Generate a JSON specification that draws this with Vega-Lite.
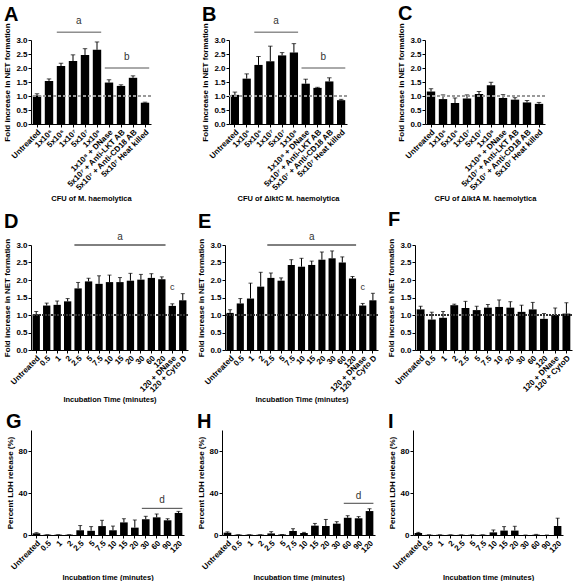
{
  "$schema": "https://vega.github.io/schema/vega-lite/v6.json",
  "padding": {"left": 3, "top": 3, "right": 0, "bottom": 0},
  "background": "white",
  "datasets": {
    "A": [
      {"c": "Untreated", "v": 1.02, "u": 1.08},
      {"c": "1x10⁶", "v": 1.54, "u": 1.61},
      {"c": "5x10⁶", "v": 2.07, "u": 2.17},
      {"c": "1x10⁷", "v": 2.25, "u": 2.47},
      {"c": "5x10⁷", "v": 2.46, "u": 2.69},
      {"c": "1x10⁸", "v": 2.65, "u": 2.93},
      {"c": "1x10⁸ + DNase", "v": 1.48, "u": 1.58},
      {"c": "5x10⁷ + Anti-LKT AB", "v": 1.36, "u": 1.40},
      {"c": "5x10⁷ + Anti-CD18 AB", "v": 1.65, "u": 1.72},
      {"c": "5x10⁷ Heat killed", "v": 0.76, "u": 0.78}
    ],
    "B": [
      {"c": "Untreated", "v": 1.04, "u": 1.14},
      {"c": "1x10⁶", "v": 1.62, "u": 1.79},
      {"c": "5x10⁶", "v": 2.11, "u": 2.41},
      {"c": "1x10⁷", "v": 2.24, "u": 2.78},
      {"c": "5x10⁷", "v": 2.45, "u": 2.55},
      {"c": "1x10⁸", "v": 2.55, "u": 2.87},
      {"c": "1x10⁸ + DNase", "v": 1.44, "u": 1.60},
      {"c": "5x10⁷ + Anti-LKT AB", "v": 1.29, "u": 1.31},
      {"c": "5x10⁷ + Anti-CD18 AB", "v": 1.52, "u": 1.65},
      {"c": "5x10⁷ Heat killed", "v": 0.85, "u": 0.88}
    ],
    "C": [
      {"c": "Untreated", "v": 1.16, "u": 1.26},
      {"c": "1x10⁶", "v": 0.89, "u": 1.04},
      {"c": "5x10⁶", "v": 0.75, "u": 0.93},
      {"c": "1x10⁷", "v": 0.91, "u": 1.04},
      {"c": "5x10⁷", "v": 1.07, "u": 1.16},
      {"c": "1x10⁸", "v": 1.38, "u": 1.49},
      {"c": "1x10⁸ + DNase", "v": 0.93, "u": 1.05},
      {"c": "5x10⁷ + Anti-LKT AB", "v": 0.87, "u": 0.94},
      {"c": "5x10⁷ + Anti-CD18 AB", "v": 0.77, "u": 0.84},
      {"c": "5x10⁷ Heat killed", "v": 0.72, "u": 0.77}
    ],
    "D": [
      {"c": "Untreated", "v": 1.02, "u": 1.10},
      {"c": "0.5", "v": 1.27, "u": 1.34},
      {"c": "1", "v": 1.29, "u": 1.40},
      {"c": "2", "v": 1.39, "u": 1.47},
      {"c": "2.5", "v": 1.76, "u": 1.93},
      {"c": "5", "v": 1.96, "u": 2.05},
      {"c": "7.5", "v": 1.89, "u": 2.12},
      {"c": "10", "v": 1.94, "u": 2.14},
      {"c": "15", "v": 1.94, "u": 2.07},
      {"c": "20", "v": 1.98, "u": 2.19},
      {"c": "30", "v": 2.01, "u": 2.16},
      {"c": "60", "v": 2.06, "u": 2.18},
      {"c": "120", "v": 2.02, "u": 2.09},
      {"c": "120 + DNase", "v": 1.26, "u": 1.32},
      {"c": "120 + Cyto D", "v": 1.42, "u": 1.61}
    ],
    "E": [
      {"c": "Untreated", "v": 1.06, "u": 1.15},
      {"c": "0.5", "v": 1.33, "u": 1.47},
      {"c": "1", "v": 1.47, "u": 1.91},
      {"c": "2", "v": 1.81, "u": 2.22},
      {"c": "2.5", "v": 2.06, "u": 2.20},
      {"c": "5", "v": 1.98, "u": 2.06},
      {"c": "7.5", "v": 2.43, "u": 2.58},
      {"c": "10", "v": 2.38, "u": 2.62},
      {"c": "15", "v": 2.43, "u": 2.54},
      {"c": "20", "v": 2.58, "u": 2.80},
      {"c": "30", "v": 2.62, "u": 2.83},
      {"c": "60", "v": 2.50, "u": 2.66},
      {"c": "120", "v": 2.04, "u": 2.10},
      {"c": "120 + DNase", "v": 1.27, "u": 1.33},
      {"c": "120 + Cyto D", "v": 1.42, "u": 1.62}
    ],
    "F": [
      {"c": "Untreated", "v": 1.16, "u": 1.25},
      {"c": "0.5", "v": 0.87, "u": 1.08},
      {"c": "1", "v": 0.92, "u": 1.10},
      {"c": "2", "v": 1.28, "u": 1.31},
      {"c": "2.5", "v": 1.20, "u": 1.39},
      {"c": "5", "v": 1.14, "u": 1.25},
      {"c": "7.5", "v": 1.21, "u": 1.30},
      {"c": "10", "v": 1.23, "u": 1.43},
      {"c": "20", "v": 1.21, "u": 1.38},
      {"c": "30", "v": 1.09, "u": 1.28},
      {"c": "60", "v": 1.16, "u": 1.36},
      {"c": "120", "v": 0.89, "u": 1.04},
      {"c": "120 + DNase", "v": 1.00, "u": 1.20},
      {"c": "120 + CytoD", "v": 1.04, "u": 1.35}
    ],
    "G": [
      {"c": "Untreated", "v": 1.6, "u": 2.2},
      {"c": "0.5", "v": 0.3, "u": 0.3},
      {"c": "1", "v": 0.3, "u": 0.3},
      {"c": "2", "v": 0.3, "u": 0.3},
      {"c": "2.5", "v": 4.5, "u": 9},
      {"c": "5", "v": 4, "u": 8},
      {"c": "7.5", "v": 8.5, "u": 14},
      {"c": "10", "v": 4.5, "u": 8.5},
      {"c": "15", "v": 12, "u": 15.5},
      {"c": "20", "v": 7, "u": 14.3},
      {"c": "30", "v": 15, "u": 17.8},
      {"c": "60", "v": 16.8, "u": 20},
      {"c": "90", "v": 14, "u": 15.5},
      {"c": "120", "v": 21, "u": 22.5}
    ],
    "H": [
      {"c": "Untreated", "v": 2.2, "u": 3},
      {"c": "0.5", "v": 0.3, "u": 0.3},
      {"c": "1", "v": 0.3, "u": 0.3},
      {"c": "2", "v": 0.3, "u": 0.3},
      {"c": "2.5", "v": 1.5, "u": 3.2},
      {"c": "5", "v": 0.5, "u": 0.5},
      {"c": "7.5", "v": 3.8, "u": 6},
      {"c": "10", "v": 1.9, "u": 2.5},
      {"c": "15", "v": 8.9, "u": 11},
      {"c": "20", "v": 8.6, "u": 14.8},
      {"c": "30", "v": 10.8, "u": 12.7},
      {"c": "60", "v": 16.4, "u": 18.4},
      {"c": "90", "v": 15.9, "u": 17.5},
      {"c": "120", "v": 22.8, "u": 25}
    ],
    "I": [
      {"c": "Untreated", "v": 1.9, "u": 2.5},
      {"c": "0.5", "v": 0.2, "u": 0.2},
      {"c": "1", "v": 0.2, "u": 0.2},
      {"c": "2", "v": 0.2, "u": 0.2},
      {"c": "2.5", "v": 0.2, "u": 0.2},
      {"c": "5", "v": 0.2, "u": 0.2},
      {"c": "7.5", "v": 0.2, "u": 0.2},
      {"c": "10", "v": 2.5, "u": 4.8},
      {"c": "15", "v": 4.2, "u": 8},
      {"c": "20", "v": 4.2, "u": 8.3},
      {"c": "30", "v": 0, "u": 0},
      {"c": "60", "v": 0.3, "u": 0.6},
      {"c": "90", "v": 0, "u": 0},
      {"c": "120", "v": 8.6, "u": 16}
    ],
    "sigA": [
      {"s": "5x10⁶", "e": "1x10⁸", "y": 3.28, "m": "1x10⁷", "t": "a", "ty": 3.68},
      {"s": "1x10⁸ + DNase", "e": "5x10⁷ Heat killed", "y": 2.0, "m": "5x10⁷ + Anti-LKT AB", "t": "b", "ty": 2.38}
    ],
    "sigD": [
      {"s": "2.5", "e": "120", "y": 3.0, "m": "15", "t": "a", "ty": 3.22}
    ],
    "sigDc": [
      {"m": "120 + DNase", "t": "c", "ty": 1.8}
    ],
    "sigG": [
      {"s": "30", "e": "120", "y": 25.4, "m": "60", "t": "d", "ty": 33}
    ],
    "sigH": [
      {"s": "60", "e": "120", "y": 30.2, "m": "90", "t": "d", "ty": 37.5}
    ]
  },
  "vconcat": [
    {
      "hconcat": [
        {
          "width": 120, "height": 84,
          "title": {"text": "A", "offset": -9},
          "data": {"name": "A"},
          "layer": [
            {"mark": {"type": "bar", "color": "black"}, "encoding": {
              "x": {"field": "c", "type": "nominal", "sort": null, "title": "CFU of M. haemolytica", "scale": {"paddingInner": 0.3, "paddingOuter": 0.15}},
              "y": {"field": "v", "type": "quantitative", "title": "Fold increase in NET formation", "scale": {"domain": [0, 3], "nice": false}, "axis": {"values": [0, 0.5, 1, 1.5, 2, 2.5, 3], "format": ".1f", "labelOverlap": false, "tickCount": 7}}}},
            {"mark": {"type": "rule", "color": "black"}, "encoding": {"x": {"field": "c", "type": "nominal", "sort": null}, "y": {"field": "v", "type": "quantitative"}, "y2": {"field": "u"}}},
            {"mark": {"type": "tick", "color": "black", "size": 4.5, "thickness": 1}, "encoding": {"x": {"field": "c", "type": "nominal", "sort": null}, "y": {"field": "u", "type": "quantitative"}}},
            {"mark": {"type": "rule", "color": "#999999", "strokeDash": [3, 2]}, "encoding": {"y": {"datum": 1}}},
            {"data": {"name": "sigA"}, "mark": {"type": "rule", "color": "#555555", "xOffset": -4.2, "x2Offset": 4.2}, "encoding": {"x": {"field": "s", "type": "nominal", "sort": null}, "x2": {"field": "e"}, "y": {"field": "y", "type": "quantitative"}}},
            {"data": {"name": "sigA"}, "mark": {"type": "text", "fontSize": 10, "color": "#333333", "baseline": "middle"}, "encoding": {"x": {"field": "m", "type": "nominal", "sort": null, "bandPosition": 1.2}, "y": {"field": "ty", "type": "quantitative"}, "text": {"field": "t"}}}
          ]
        },
        {
          "width": 118, "height": 84,
          "title": {"text": "B", "offset": -9},
          "data": {"name": "B"},
          "layer": [
            {"mark": {"type": "bar", "color": "black"}, "encoding": {
              "x": {"field": "c", "type": "nominal", "sort": null, "title": "CFU of ΔlktC M. haemolytica", "scale": {"paddingInner": 0.3, "paddingOuter": 0.15}},
              "y": {"field": "v", "type": "quantitative", "title": "Fold increase in NET formation", "scale": {"domain": [0, 3], "nice": false}, "axis": {"values": [0, 0.5, 1, 1.5, 2, 2.5, 3], "format": ".1f", "labelOverlap": false, "tickCount": 7}}}},
            {"mark": {"type": "rule", "color": "black"}, "encoding": {"x": {"field": "c", "type": "nominal", "sort": null}, "y": {"field": "v", "type": "quantitative"}, "y2": {"field": "u"}}},
            {"mark": {"type": "tick", "color": "black", "size": 4.5, "thickness": 1}, "encoding": {"x": {"field": "c", "type": "nominal", "sort": null}, "y": {"field": "u", "type": "quantitative"}}},
            {"mark": {"type": "rule", "color": "#999999", "strokeDash": [3, 2]}, "encoding": {"y": {"datum": 1}}},
            {"data": {"name": "sigA"}, "mark": {"type": "rule", "color": "#555555", "xOffset": -4.2, "x2Offset": 4.2}, "encoding": {"x": {"field": "s", "type": "nominal", "sort": null}, "x2": {"field": "e"}, "y": {"field": "y", "type": "quantitative"}}},
            {"data": {"name": "sigA"}, "mark": {"type": "text", "fontSize": 10, "color": "#333333", "baseline": "middle"}, "encoding": {"x": {"field": "m", "type": "nominal", "sort": null, "bandPosition": 1.2}, "y": {"field": "ty", "type": "quantitative"}, "text": {"field": "t"}}}
          ]
        },
        {
          "width": 120, "height": 84,
          "title": {"text": "C", "offset": -1},
          "data": {"name": "C"},
          "layer": [
            {"mark": {"type": "bar", "color": "black"}, "encoding": {
              "x": {"field": "c", "type": "nominal", "sort": null, "title": "CFU of ΔlktA M. haemolytica", "scale": {"paddingInner": 0.3, "paddingOuter": 0.15}},
              "y": {"field": "v", "type": "quantitative", "title": "Fold increase in NET formation", "scale": {"domain": [0, 3], "nice": false}, "axis": {"values": [0, 0.5, 1, 1.5, 2, 2.5, 3], "format": ".1f", "labelOverlap": false, "tickCount": 7}}}},
            {"mark": {"type": "rule", "color": "black"}, "encoding": {"x": {"field": "c", "type": "nominal", "sort": null}, "y": {"field": "v", "type": "quantitative"}, "y2": {"field": "u"}}},
            {"mark": {"type": "tick", "color": "black", "size": 4.5, "thickness": 1}, "encoding": {"x": {"field": "c", "type": "nominal", "sort": null}, "y": {"field": "u", "type": "quantitative"}}},
            {"mark": {"type": "rule", "color": "#999999", "strokeDash": [3, 2]}, "encoding": {"y": {"datum": 1}}}
          ]
        }
      ],
      "spacing": 49
    },
    {
      "hconcat": [
        {
          "width": 157, "height": 105,
          "title": {"text": "D", "offset": 0},
          "data": {"name": "D"},
          "layer": [
            {"mark": {"type": "bar", "color": "black"}, "encoding": {
              "x": {"field": "c", "type": "nominal", "sort": null, "title": "Incubation Time (minutes)", "scale": {"paddingInner": 0.3, "paddingOuter": 0.15}},
              "y": {"field": "v", "type": "quantitative", "title": "Fold increase in NET formation", "scale": {"domain": [0, 3], "nice": false}, "axis": {"values": [0, 0.5, 1, 1.5, 2, 2.5, 3], "format": ".1f", "labelOverlap": false, "tickCount": 7}}}},
            {"mark": {"type": "rule", "color": "black"}, "encoding": {"x": {"field": "c", "type": "nominal", "sort": null}, "y": {"field": "v", "type": "quantitative"}, "y2": {"field": "u"}}},
            {"mark": {"type": "tick", "color": "black", "size": 4, "thickness": 1}, "encoding": {"x": {"field": "c", "type": "nominal", "sort": null}, "y": {"field": "u", "type": "quantitative"}}},
            {"mark": {"type": "rule", "color": "#333333", "strokeDash": [2, 1]}, "encoding": {"y": {"datum": 1}}},
            {"data": {"name": "sigD"}, "mark": {"type": "rule", "color": "black", "xOffset": -3.7, "x2Offset": 3.7}, "encoding": {"x": {"field": "s", "type": "nominal", "sort": null}, "x2": {"field": "e"}, "y": {"field": "y", "type": "quantitative"}}},
            {"data": {"name": "sigD"}, "mark": {"type": "text", "fontSize": 10, "color": "#333333", "baseline": "middle"}, "encoding": {"x": {"field": "m", "type": "nominal", "sort": null}, "y": {"field": "ty", "type": "quantitative"}, "text": {"field": "t"}}},
            {"data": {"name": "sigDc"}, "mark": {"type": "text", "fontSize": 9, "color": "#333333", "baseline": "middle"}, "encoding": {"x": {"field": "m", "type": "nominal", "sort": null}, "y": {"field": "ty", "type": "quantitative"}, "text": {"field": "t"}}}
          ]
        },
        {
          "width": 153, "height": 105,
          "title": {"text": "E", "offset": 0},
          "data": {"name": "E"},
          "layer": [
            {"mark": {"type": "bar", "color": "black"}, "encoding": {
              "x": {"field": "c", "type": "nominal", "sort": null, "title": "Incubation Time (minutes)", "scale": {"paddingInner": 0.3, "paddingOuter": 0.15}},
              "y": {"field": "v", "type": "quantitative", "title": "Fold increase in NET formation", "scale": {"domain": [0, 3], "nice": false}, "axis": {"values": [0, 0.5, 1, 1.5, 2, 2.5, 3], "format": ".1f", "labelOverlap": false, "tickCount": 7}}}},
            {"mark": {"type": "rule", "color": "black"}, "encoding": {"x": {"field": "c", "type": "nominal", "sort": null}, "y": {"field": "v", "type": "quantitative"}, "y2": {"field": "u"}}},
            {"mark": {"type": "tick", "color": "black", "size": 4, "thickness": 1}, "encoding": {"x": {"field": "c", "type": "nominal", "sort": null}, "y": {"field": "u", "type": "quantitative"}}},
            {"mark": {"type": "rule", "color": "#333333", "strokeDash": [2, 1]}, "encoding": {"y": {"datum": 1}}},
            {"data": {"name": "sigD"}, "mark": {"type": "rule", "color": "black", "xOffset": -3.6, "x2Offset": 3.6}, "encoding": {"x": {"field": "s", "type": "nominal", "sort": null}, "x2": {"field": "e"}, "y": {"field": "y", "type": "quantitative"}}},
            {"data": {"name": "sigD"}, "mark": {"type": "text", "fontSize": 10, "color": "#333333", "baseline": "middle"}, "encoding": {"x": {"field": "m", "type": "nominal", "sort": null}, "y": {"field": "ty", "type": "quantitative"}, "text": {"field": "t"}}},
            {"data": {"name": "sigDc"}, "mark": {"type": "text", "fontSize": 9, "color": "#333333", "baseline": "middle"}, "encoding": {"x": {"field": "m", "type": "nominal", "sort": null}, "y": {"field": "ty", "type": "quantitative"}, "text": {"field": "t"}}}
          ]
        },
        {
          "width": 157, "height": 105,
          "title": {"text": "F", "offset": 8},
          "data": {"name": "F"},
          "layer": [
            {"mark": {"type": "bar", "color": "black"}, "encoding": {
              "x": {"field": "c", "type": "nominal", "sort": null, "title": null, "scale": {"paddingInner": 0.3, "paddingOuter": 0.15}},
              "y": {"field": "v", "type": "quantitative", "title": "Fold increase in NET formation", "scale": {"domain": [0, 3], "nice": false}, "axis": {"values": [0, 0.5, 1, 1.5, 2, 2.5, 3], "format": ".1f", "labelOverlap": false, "tickCount": 7}}}},
            {"mark": {"type": "rule", "color": "black"}, "encoding": {"x": {"field": "c", "type": "nominal", "sort": null}, "y": {"field": "v", "type": "quantitative"}, "y2": {"field": "u"}}},
            {"mark": {"type": "tick", "color": "black", "size": 4, "thickness": 1}, "encoding": {"x": {"field": "c", "type": "nominal", "sort": null}, "y": {"field": "u", "type": "quantitative"}}},
            {"mark": {"type": "rule", "color": "#333333", "strokeDash": [2, 1]}, "encoding": {"y": {"datum": 1}}}
          ]
        }
      ],
      "spacing": 8
    },
    {
      "hconcat": [
        {
          "width": 153, "height": 105,
          "title": {"text": "G", "offset": -2},
          "data": {"name": "G"},
          "layer": [
            {"mark": {"type": "bar", "color": "black"}, "encoding": {
              "x": {"field": "c", "type": "nominal", "sort": null, "title": "Incubation time (minutes)", "scale": {"paddingInner": 0.3, "paddingOuter": 0.15}},
              "y": {"field": "v", "type": "quantitative", "title": "Percent LDH release (%)", "scale": {"domain": [0, 100], "nice": false}, "axis": {"values": [0, 20, 40, 60, 80, 100], "labelOverlap": false, "labelBound": false, "labelFlush": false, "labelSeparation": -30, "labelExpr": "format(datum.value, 'd')", "labelOpacity": 1, "labelLimit": 100, "zindex": 2}}}},
            {"mark": {"type": "rule", "color": "black"}, "encoding": {"x": {"field": "c", "type": "nominal", "sort": null}, "y": {"field": "v", "type": "quantitative"}, "y2": {"field": "u"}}},
            {"mark": {"type": "tick", "color": "black", "size": 4, "thickness": 1}, "encoding": {"x": {"field": "c", "type": "nominal", "sort": null}, "y": {"field": "u", "type": "quantitative"}}},
            {"data": {"name": "sigG"}, "mark": {"type": "rule", "color": "#444444", "xOffset": -3.9, "x2Offset": 3.9}, "encoding": {"x": {"field": "s", "type": "nominal", "sort": null}, "x2": {"field": "e"}, "y": {"field": "y", "type": "quantitative"}}},
            {"data": {"name": "sigG"}, "mark": {"type": "text", "fontSize": 10, "color": "#333333", "baseline": "middle"}, "encoding": {"x": {"field": "m", "type": "nominal", "sort": null, "bandPosition": 1.2}, "y": {"field": "ty", "type": "quantitative"}, "text": {"field": "t"}}}
          ]
        },
        {
          "width": 153, "height": 105,
          "title": {"text": "H", "offset": -2},
          "data": {"name": "H"},
          "layer": [
            {"mark": {"type": "bar", "color": "black"}, "encoding": {
              "x": {"field": "c", "type": "nominal", "sort": null, "title": "Incubation time (minutes)", "scale": {"paddingInner": 0.3, "paddingOuter": 0.15}},
              "y": {"field": "v", "type": "quantitative", "title": "Percent LDH release (%)", "scale": {"domain": [0, 100], "nice": false}, "axis": {"values": [0, 20, 40, 60, 80, 100], "labelOverlap": false, "labelBound": false, "labelFlush": false, "labelSeparation": -30, "labelExpr": "format(datum.value, 'd')", "labelOpacity": 1, "labelLimit": 100, "zindex": 2}}}},
            {"mark": {"type": "rule", "color": "black"}, "encoding": {"x": {"field": "c", "type": "nominal", "sort": null}, "y": {"field": "v", "type": "quantitative"}, "y2": {"field": "u"}}},
            {"mark": {"type": "tick", "color": "black", "size": 4, "thickness": 1}, "encoding": {"x": {"field": "c", "type": "nominal", "sort": null}, "y": {"field": "u", "type": "quantitative"}}},
            {"data": {"name": "sigH"}, "mark": {"type": "rule", "color": "#444444", "xOffset": -3.9, "x2Offset": 3.9}, "encoding": {"x": {"field": "s", "type": "nominal", "sort": null}, "x2": {"field": "e"}, "y": {"field": "y", "type": "quantitative"}}},
            {"data": {"name": "sigH"}, "mark": {"type": "text", "fontSize": 10, "color": "#333333", "baseline": "middle"}, "encoding": {"x": {"field": "m", "type": "nominal", "sort": null}, "y": {"field": "ty", "type": "quantitative"}, "text": {"field": "t"}}}
          ]
        },
        {
          "width": 150, "height": 105,
          "title": {"text": "I", "offset": -2},
          "data": {"name": "I"},
          "layer": [
            {"mark": {"type": "bar", "color": "black"}, "encoding": {
              "x": {"field": "c", "type": "nominal", "sort": null, "title": "Incubation time (minutes)", "scale": {"paddingInner": 0.3, "paddingOuter": 0.15}},
              "y": {"field": "v", "type": "quantitative", "title": "Percent LDH release (%)", "scale": {"domain": [0, 100], "nice": false}, "axis": {"values": [0, 20, 40, 60, 80, 100], "labelOverlap": false, "labelBound": false, "labelFlush": false, "labelSeparation": -30, "labelExpr": "format(datum.value, 'd')", "labelOpacity": 1, "labelLimit": 100, "zindex": 2}}}},
            {"mark": {"type": "rule", "color": "black"}, "encoding": {"x": {"field": "c", "type": "nominal", "sort": null}, "y": {"field": "v", "type": "quantitative"}, "y2": {"field": "u"}}},
            {"mark": {"type": "tick", "color": "black", "size": 4, "thickness": 1}, "encoding": {"x": {"field": "c", "type": "nominal", "sort": null}, "y": {"field": "u", "type": "quantitative"}}}
          ]
        }
      ],
      "spacing": 13
    }
  ],
  "spacing": 8,
  "config": {
    "font": "Liberation Sans",
    "view": {"stroke": null},
    "axis": {"grid": false, "domainColor": "black", "tickColor": "black", "labelColor": "black", "titleColor": "black", "labelFontWeight": "bold", "titleFontWeight": "bold", "labelFontSize": 8, "titleFontSize": 8, "tickSize": 3, "labelPadding": 1, "titlePadding": 4, "labelFont": "Liberation Sans", "titleFont": "Liberation Sans"},
    "axisX": {"labelAngle": -45, "titleFontSize": 7.5, "titlePadding": 2},
    "axisY": {"labelOverlap": false},
    "title": {"fontSize": 20, "fontWeight": "bold", "anchor": "start", "frame": "bounds", "color": "black", "font": "Liberation Sans"},
    "text": {"font": "Liberation Sans"}
  }
}
